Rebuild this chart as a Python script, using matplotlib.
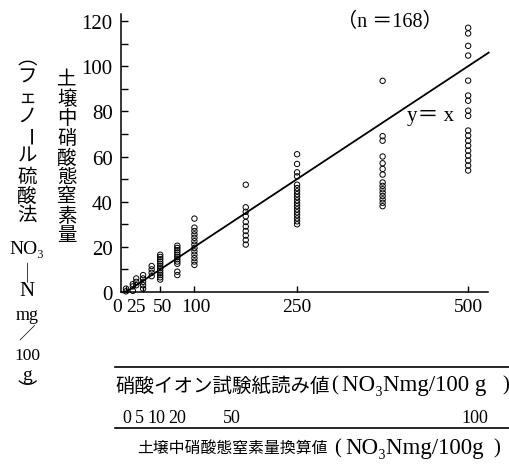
import numpy as np
import matplotlib
matplotlib.use('Agg')
from matplotlib import pyplot as plt
from matplotlib.lines import Line2D
import matplotlib.transforms as mtransforms

plt.rcParams['font.family'] = ['Liberation Serif', 'Noto Sans CJK JP', 'DejaVu Sans']

# converted soil NO3-N (mg/100g) for each test-paper column, and the measured values
col_x = [0, 2, 3, 5, 7.5, 10, 15, 20, 35, 50, 75, 100]
col_y = [
    [0.3, 1.5],
    [0.5, 2.5, 3.5],
    [3.0, 4.5, 6.0],
    [1.5, 3.0, 4.5, 6.0, 7.5],
    [7.0, 8.5, 10.0, 11.5],
    [5.5, 6.5, 7.5, 8.5, 9.5, 10.5, 11.5, 12.5, 13.5, 14.5, 15.5, 16.5],
    [7.5, 9.0, 12.5, 13.5, 14.5, 15.5, 16.5, 17.5, 18.5, 19.5, 20.5],
    [12.0, 13.5, 15.0, 16.5, 18.0, 19.5, 21.0, 22.5, 24.0, 25.5, 27.0, 28.5, 32.5],
    [21.0, 23.0, 25.0, 27.0, 29.0, 31.0, 33.5, 35.5, 37.5, 47.5],
    [30.0, 31.3, 32.6, 34.0, 35.3, 36.6, 38.0, 39.3, 40.6, 42.0, 43.3, 44.6, 46.0, 47.5,
     51.2, 53.0, 56.7, 61.0],
    [38.0, 39.5, 41.0, 42.5, 44.0, 45.5, 47.0, 48.5, 52.0, 54.5, 57.0, 60.0, 67.0, 69.0, 93.5],
    [53.8, 56.0, 58.2, 60.4, 62.6, 64.8, 67.0, 69.3, 71.5, 78.0, 80.3, 84.7, 87.0, 93.6,
     104.7, 109.0, 114.5, 117.0],
]
tick_pos = [0, 5, 10, 20, 50, 100]
tick_lab = ['0', '25', '50', '100', '250', '500']
table_lab = ['0', '5', '10', '20', '50', '100']

fig = plt.figure(figsize=(5.10, 4.77), dpi=100)
W, H = 510.0, 477.0
ax = fig.add_axes([121 / W, 1 - 293 / H, 367 / W, 278 / H])

xs = np.concatenate([[x] * len(v) for x, v in zip(col_x, col_y)])
ys = np.concatenate(col_y)
ax.scatter(xs, ys, s=15, facecolors='none', edgecolors='black', linewidths=0.7,
           clip_on=False, zorder=3)
ax.plot([0, 106], [0, 106], color='black', lw=1.3, clip_on=False)

ax.set_xlim(-1.46, 105.8)
ax.set_ylim(0, 123.1)
ax.spines['top'].set_visible(False)
ax.spines['right'].set_visible(False)
ax.spines['left'].set_linewidth(1.1)
ax.spines['bottom'].set_linewidth(1.1)
ax.set_yticks(np.arange(0, 121, 20))
ax.set_yticks(np.arange(10, 121, 20), minor=True)
ax.set_xticks(tick_pos)
ax.set_xticklabels(tick_lab)
ax.tick_params(axis='y', which='both', direction='in', length=5, width=1, labelsize=15, pad=6)
ax.tick_params(axis='x', direction='in', length=4, width=1, labelsize=14, pad=4)
# the crowded labels near zero sit a bit to the left in the original
for lab, dx in zip(ax.get_xticklabels(), [-9, -7, 2, 1, 0, 0]):
    lab.set_transform(lab.get_transform() +
                      mtransforms.ScaledTranslation(dx / 100, 0, fig.dpi_scale_trans))

ax.text(89, 78, 'y＝ x', fontsize=15, ha='center', va='center')


def ftext(x, y, s, ha='center', **kw):
    fig.text(x / W, 1 - y / H, s, ha=ha, va='center', **kw)


ftext(390, 22, '（n ＝168）', fontsize=14.5)

# y label, first column
for i, ch in enumerate('土壌中硝酸態窒素量'):
    ftext(67, 80 + i * 19.6, ch, fontsize=14)

# y label, second column
col2 = [('︵', 60, 0, 14), ('フ', 78, 0, 14), ('ェ', 98, 0, 13), ('ノ', 117, 0, 14),
        ('ー', 138, -90, 14), ('ル', 157, 0, 14), ('硫', 178, 0, 14), ('酸', 197, 0, 14),
        ('法', 216, 0, 14), ('NO₃', 249, 0, 14), ('—', 271, -90, 14), ('N', 292, 0, 15),
        ('mg', 316, 0, 13), ('／', 335, 0, 12), ('100', 356, 0, 12.5), ('g', 375, 0, 14),
        ('︶', 392, 0, 14)]
for s, y, rot, fs in col2:
    ftext(27, y, s, rotation=rot, fontsize=fs)

# conversion table below
fig.add_artist(Line2D([115 / W, 1.0], [1 - 368 / H, 1 - 368 / H], color='black', lw=1.2))
fig.add_artist(Line2D([115 / W, 1.0], [1 - 429 / H, 1 - 429 / H], color='black', lw=1.2))

ftext(115, 386, '硝酸イオン試験紙読み値', ha='left', fontsize=14)
ftext(331, 386, '(', ha='left', fontsize=15)
ftext(342, 386, 'NO₃Nmg/100 g', ha='left', fontsize=16.5)
ftext(509, 386, ')', ha='right', fontsize=15)

for s, x in zip(table_lab, [126.5, 139.5, 156.5, 177, 231.5, 474.5]):
    ftext(x, 419, s, fontsize=13)

ftext(137, 449, '土壌中硝酸態窒素量換算値', ha='left', fontsize=11.4)
ftext(334, 449, '(', ha='left', fontsize=15)
ftext(345, 449, 'NO₃Nmg/100g', ha='left', fontsize=16.5)
ftext(500, 449, ')', ha='right', fontsize=15)

fig.savefig('out.png', dpi=100)
